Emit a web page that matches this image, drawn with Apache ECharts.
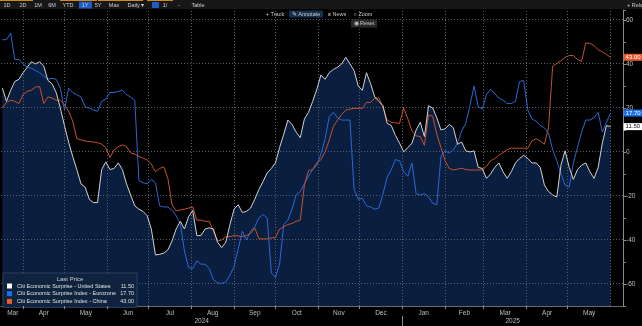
<!DOCTYPE html>
<html>
<head>
<meta charset="utf-8">
<script src="https://cdn.jsdelivr.net/npm/echarts@6/dist/echarts.min.js"></script>
<style>
  html, body { margin: 0; padding: 0; background: #000; }
  #chart { width: 642px; height: 326px; }
</style>
</head>
<body>
<div id="chart"></div>
<script>
// Citi Economic Surprise indices, sampled every 3 days from 17 Mar 2024
const seriesNames = [
  'Citi Economic Surprise - United States',
  'Citi Economic Surprise Index - Eurozone',
  'Citi Economic Surprise Index - China'
];
const firstSample = [2024, 2, 17];
const sampleStepDays = 3;

const usValues = [
  29, 23, 28, 32, 33, 36, 38.5, 41, 40, 41,
  39, 32.5, 31, 27, 20, 12, 4.5, -2, -8, -14.5,
  -16, -21.5, -23, -23, -8, -4.5, -8, -7.5, -5, -8,
  -14.5, -19.5, -24.5, -26, -27, -29, -35, -46.8, -46.5, -46,
  -44.5, -40.5, -35, -31.5, -35, -29.4, -26.5, -38, -38, -35,
  -34.5, -35, -41, -43.5, -41, -33, -26, -24, -27.5, -27,
  -25.5, -21.5, -17, -13.5, -9.5, -7.5, -5, 2, 8, 14.5,
  12.5, 9, 6.5, 15, 18, 23, 28.5, 35, 33, 36,
  37.5, 38.5, 40, 43, 40, 37, 30, 28, 36, 31,
  25, 23, 21, 13, 12, 7.5, 4, 0, 2, 4,
  10, 13.5, 7, 21, 20, 15.5, 10, 10.5, 12.5, 11,
  3.5, 4.5, 0.5, 0, 0.5, -7, -7.5, -12, -10, -7,
  -5, -9, -12, -9, -5, -3, -1.5, -3, -5, -5,
  -7, -15, -18, -19.5, -20.5, -6, 0.5, -7, -12.5, -8,
  -6, -5, -9, -12, -7, 4, 12, 11.5
];
const ezValues = [
  51, 51, 54, 42, 42, 40, 38.5, 38, 37, 36,
  34.5, 33, 33.5, 33, 29, 19, 29, 27, 26, 25,
  20.5, 20, 19, 18.5, 23, 24, 27, 27, 27.5, 28,
  26, 25, 23.5, -13, -14, -14.5, -12.5, -14, -24.5, -25,
  -25, -26.5, -29, -32.5, -45, -52.5, -53, -49.5, -51, -51,
  -53, -58, -59.5, -59.7, -59, -56, -52, -44, -36, -40,
  -36, -34, -30, -28.5, -30, -55, -57, -51, -33, -31,
  -26, -19.5, -18, -14.5, -11, -8, -6, -1, 6, 16,
  18, 15.5, 14.5, 14.5, 14.5, -17, -21.5, -21, -24.5, -25,
  -26, -25.5, -19, -11.5, -8, -3.5, -4, -9, -11, -5,
  -19, -19.5, -19, -20.3, -23.3, -24, -2, 0.5, -0.5, 1,
  4, 9.5, 13, 21, 30, 20.5, 19.5, 26, 28.5, 26.5,
  24.5, 23.5, 22, 22, 23, 32, 32.5, 19, 15, 14,
  12, 11, 8.5, 1, -4, -10, -15, -16, -5, 2,
  9, 14.5, 14.5, 15.5, 18, 9, 13.5, 17.7
];
const cnValues = [
  20, 22.5, 23.5, 23, 22, 26, 27.5, 28, 29.5, 29.7,
  22, 25, 24.5, 23.5, 23.5, 21.5, 18.5, 14, 6, 5.5,
  5, 4.7, 4.5, 4.2, 3.5, 2, -2.5, 0.9, 2.4, 3.2,
  2.5, -0.5, -1, -2, -2.8, -3.6, -5.5, -9, -7.5, -6.8,
  -12, -24, -26.8, -26.4, -26, -25.5, -25, -31, -31, -31.5,
  -31.5, -36, -40.5, -40, -38.5, -38.5, -38, -38.2, -38.5, -38,
  -37, -34.5, -39.5, -39.5, -39.5, -39, -39, -35, -34, -33,
  -32.5, -31.5, -31, -15, -8.5, -8, -5, -3.5, 0, 5.5,
  11.5, 14.5, 17, 19, 19.5, 19.8, 19.8, 19.8, 22.5, 22.5,
  24.4, 24.6, 20, 14.5, 13.5, 13.2, 13, 20, 15, 9.5,
  7.3, 7, 3, 16.8, 16.2, 8, 2, -4, -7.5, -8.2,
  -7.8, -7.4, -8, -8.2, -8.2, -8.2, -8.2, -6.5, -4, -3,
  -1.5, -0.3, 1, 1.7, 1.7, 1.7, 1.7, 1.7, 5, 6,
  5, 3.5, 11, 39, 40.2, 41.5, 43, 43.8, 43.8, 42,
  41.2, 49.5, 49.4, 48.3, 46.4, 45.6, 44.3, 43
];

// axis extents, grid lines and tick labels
const axisMin = '2024-03-16';
const axisMax = '2025-06-10';
const yMin = -70;
const yMax = 64.5;
const yGridValues = [-60, -40, -20, 0, 20, 40, 60];
const monthStarts = [
  '2024-03-01', '2024-04-01', '2024-05-01', '2024-06-01', '2024-07-01', '2024-08-01',
  '2024-09-01', '2024-10-01', '2024-11-01', '2024-12-01', '2025-01-01', '2025-02-01',
  '2025-03-01', '2025-04-01', '2025-05-01', '2025-06-01'
];
const monthNames = ['Mar', 'Apr', 'May', 'Jun', 'Jul', 'Aug', 'Sep', 'Oct', 'Nov', 'Dec',
  'Jan', 'Feb', 'Mar', 'Apr', 'May'];
const yearBreaks = [axisMin, '2025-01-01', axisMax];
const yearNames = ['2024', '2025'];

const colors = { us: '#d2d2d2', ez: '#2a68d6', cn: '#c5512b' };
const legendColors = ['#ffffff', '#1c6cf0', '#ee5a24'];
const tagColors = ['#ffffff', '#1f6fe6', '#e9582a'];
const gridColor = '#5a606a';
const fontFamily = '"Liberation Sans", Arial, sans-serif';

const ts = s => { const p = s.split('-').map(Number); return new Date(p[0], p[1] - 1, p[2]).getTime(); };
const sampleDates = usValues.map((_, i) =>
  new Date(firstSample[0], firstSample[1], firstSample[2] + i * sampleStepDays).getTime());
const pairs = vals => vals.map((v, i) => [sampleDates[i], v]);
const firstDate = sampleDates[0];
const lastDate = sampleDates[sampleDates.length - 1];

const lastValues = [usValues, ezValues, cnValues].map(a => a[a.length - 1].toFixed(2));

// month label spans (clipped to the data range) and their tick positions
const monthData = monthNames.map((m, i) => {
  const s = ts(monthStarts[i]), e = ts(monthStarts[i + 1]);
  return [Math.max(s, firstDate), Math.min(e, lastDate), yMin, s];
});
const yearData = yearNames.map((y, i) => [ts(yearBreaks[i]), ts(yearBreaks[i + 1]), yMin]);
// dotted grid: horizontal rules at the labelled values, vertical rules at month starts
const hGridData = yGridValues.map(v => [ts(axisMin), ts(axisMax), v]);
const vGridData = monthStarts.slice(1).map(d => [ts(d), yMin, yMax]);

const chart = echarts.init(document.getElementById('chart'), null, { renderer: 'canvas' });

function endTag(i) {
  return {
    show: true,
    formatter: p => p.value[1].toFixed(2),
    distance: 13,
    backgroundColor: tagColors[i],
    color: i === 0 ? '#111' : '#fff',
    fontSize: 6,
    fontFamily: fontFamily,
    padding: [1, 2, 0, 2]
  };
}

const toolbarItems = [
  ['1D', 7], ['2D', 23], ['1M', 38], ['6M', 52], ['YTD', 68], ['1Y', 85], ['5Y', 98],
  ['Max', 114], ['Daily \u25BE', 136], ['1/', 165], ['-', 179], ['Table', 198]
];
const graphics = [
  { type: 'rect', shape: { x: 0, y: 0, width: 642, height: 9 }, style: { fill: '#171717' }, z: 100 },
  { type: 'rect', shape: { x: 0, y: 0, width: 33, height: 1 }, style: { fill: '#d08a1c' }, z: 101 },
  { type: 'rect', shape: { x: 60, y: 0, width: 37, height: 1 }, style: { fill: '#d08a1c' }, z: 101 },
  { type: 'rect', shape: { x: 98, y: 0, width: 45, height: 1 }, style: { fill: '#d08a1c' }, z: 101 },
  { type: 'rect', shape: { x: 147, y: 0, width: 26, height: 1 }, style: { fill: '#d08a1c' }, z: 101 },
  { type: 'rect', shape: { x: 79, y: 1.5, width: 13, height: 7 }, style: { fill: '#1f5cc4' }, z: 101 },
  { type: 'rect', shape: { x: 152, y: 2, width: 7, height: 6 }, style: { fill: '#1f5cc4' }, z: 101 },
  { type: 'rect', shape: { x: 289, y: 10.5, width: 34, height: 7 }, style: { fill: '#15304f' }, z: 101 },
  { type: 'rect', shape: { x: 351, y: 19.5, width: 26, height: 8 }, style: { fill: '#2a2a2a' }, z: 101 }
];
toolbarItems.forEach(([t, x]) => graphics.push({
  type: 'text', x: x, y: 5, z: 102,
  style: { text: t, fill: '#cfcfcf', fontSize: 5.5, fontFamily: fontFamily, align: 'center', verticalAlign: 'middle' }
}));
[['+ Track', 275], ['\u270E Annotate', 306], ['\u2261 News', 337], ['\u25CB Zoom', 363], ['+ Related', 627]].forEach(([t, x], k) => graphics.push({
  type: 'text', x: x, y: k === 4 ? 5 : 14, z: 102,
  style: { text: t, fill: '#c8c8c8', fontSize: 5.5, fontFamily: fontFamily, align: k === 4 ? 'left' : 'center', verticalAlign: 'middle' }
}));
graphics.push({
  type: 'text', x: 364, y: 23.5, z: 102,
  style: { text: '\u25C9 Reset', fill: '#c8c8c8', fontSize: 5.5, fontFamily: fontFamily, align: 'center', verticalAlign: 'middle' }
});
graphics.push({
  type: 'text', x: 70, y: 279.5, z: 102,
  style: { text: 'Last Price', fill: '#d0d0d0', fontSize: 6, fontFamily: fontFamily, align: 'center', verticalAlign: 'middle' }
});

function axisText(text, x, y) {
  return {
    type: 'text', x: x, y: y,
    style: { text: text, fill: '#bdbdbd', fontSize: 6.5, fontFamily: fontFamily, align: 'center', verticalAlign: 'middle' }
  };
}
const crisp = v => Math.round(v - 0.5) + 0.5;

const option = {
  backgroundColor: '#000',
  animation: false,
  textStyle: { fontFamily: fontFamily },
  grid: { left: 1, right: 19, top: 10, bottom: 20, containLabel: false },
  xAxis: {
    type: 'time',
    min: axisMin,
    max: axisMax,
    axisLine: { show: true, onZero: false, lineStyle: { color: '#6a6a6a', width: 1 } },
    axisTick: { show: false },
    axisLabel: { show: false },
    splitLine: { show: false }
  },
  yAxis: {
    type: 'value',
    position: 'right',
    min: yMin,
    max: yMax,
    interval: 10,
    axisLine: { show: true, onZero: false, lineStyle: { color: '#8a8a8a', width: 1 } },
    axisTick: { show: true, length: 3, lineStyle: { color: '#8a8a8a' } },
    axisLabel: {
      color: '#bdbdbd', fontSize: 6.5, margin: 3,
      formatter: v => (v % 20 === 0 ? String(v) : '')
    },
    splitLine: { show: false }
  },
  legend: {
    orient: 'vertical',
    left: 3,
    top: 273,
    padding: [10, 3, 3, 4],
    itemWidth: 5,
    itemHeight: 5,
    itemGap: 1.7,
    icon: 'rect',
    selectedMode: false,
    backgroundColor: '#0f233f',
    borderColor: '#2b4062',
    borderWidth: 1,
    data: seriesNames.map((n, i) => ({ name: n, itemStyle: { color: legendColors[i] } })),
    formatter: name => `{n|${name}}{v|${lastValues[seriesNames.indexOf(name)]}}`,
    textStyle: {
      color: '#e0e0e0',
      fontSize: 5.5,
      rich: {
        n: { width: 101, fontSize: 5.5, color: '#e0e0e0' },
        v: { width: 16, align: 'right', fontSize: 5.5, color: '#e0e0e0' }
      }
    }
  },
  graphic: graphics,
  series: [
    {
      name: 'US area',
      type: 'line',
      data: pairs(usValues),
      showSymbol: false,
      silent: true,
      z: 1,
      lineStyle: { width: 0, opacity: 0 },
      areaStyle: { color: '#0a1f3f', opacity: 1, origin: 'start' }
    },
    {
      name: 'hgrid',
      type: 'custom',
      silent: true,
      clip: false,
      z: 2,
      encode: { x: [0, 1], y: 2 },
      data: hGridData,
      renderItem: (params, api) => {
        const a = api.coord([api.value(0), api.value(2)]);
        const b = api.coord([api.value(1), api.value(2)]);
        const y = crisp(a[1]);
        return { type: 'line', shape: { x1: a[0], y1: y, x2: b[0], y2: y },
          style: { stroke: gridColor, lineWidth: 1, lineDash: [1, 2] } };
      }
    },
    {
      name: 'vgrid',
      type: 'custom',
      silent: true,
      clip: false,
      z: 2,
      encode: { x: 0, y: [1, 2] },
      data: vGridData,
      renderItem: (params, api) => {
        const a = api.coord([api.value(0), api.value(1)]);
        const b = api.coord([api.value(0), api.value(2)]);
        const x = crisp(a[0]);
        return { type: 'line', shape: { x1: x, y1: a[1], x2: x, y2: b[1] },
          style: { stroke: gridColor, lineWidth: 1, lineDash: [1, 2] } };
      }
    },
    {
      name: seriesNames[1],
      type: 'line',
      data: pairs(ezValues),
      showSymbol: false,
      z: 3,
      color: legendColors[1],
      lineStyle: { color: colors.ez, width: 1 },
      endLabel: endTag(1)
    },
    {
      name: seriesNames[2],
      type: 'line',
      data: pairs(cnValues),
      showSymbol: false,
      z: 4,
      color: legendColors[2],
      lineStyle: { color: colors.cn, width: 1 },
      endLabel: endTag(2)
    },
    {
      name: seriesNames[0],
      type: 'line',
      data: pairs(usValues),
      showSymbol: false,
      z: 5,
      color: legendColors[0],
      lineStyle: { color: colors.us, width: 1 },
      endLabel: endTag(0)
    },
    {
      name: 'months',
      type: 'custom',
      silent: true,
      clip: false,
      z: 6,
      encode: { x: [0, 1, 3], y: 2 },
      data: monthData,
      renderItem: (params, api) => {
        const a = api.coord([api.value(0), yMin]);
        const b = api.coord([api.value(1), yMin]);
        const t = api.coord([api.value(3), yMin]);
        const kids = [axisText(monthNames[params.dataIndex], (a[0] + b[0]) / 2, a[1] + 7)];
        if (api.value(3) >= ts(axisMin)) {
          const x = crisp(t[0]);
          kids.push({ type: 'line', shape: { x1: x, y1: t[1], x2: x, y2: t[1] + 3 }, style: { stroke: '#8a8a8a', lineWidth: 1 } });
        }
        return { type: 'group', children: kids };
      }
    },
    {
      name: 'years',
      type: 'custom',
      silent: true,
      clip: false,
      z: 6,
      encode: { x: [0, 1], y: 2 },
      data: yearData,
      renderItem: (params, api) => {
        const a = api.coord([api.value(0), yMin]);
        const b = api.coord([api.value(1), yMin]);
        const kids = [axisText(yearNames[params.dataIndex], (a[0] + b[0]) / 2, a[1] + 15)];
        if (params.dataIndex > 0) {
          const x = crisp(a[0]);
          kids.push({ type: 'line', shape: { x1: x, y1: a[1] + 10, x2: x, y2: a[1] + 20 }, style: { stroke: '#8a8a8a', lineWidth: 1 } });
        }
        return { type: 'group', children: kids };
      }
    }
  ]
};

chart.setOption(option);
</script>
</body>
</html>
